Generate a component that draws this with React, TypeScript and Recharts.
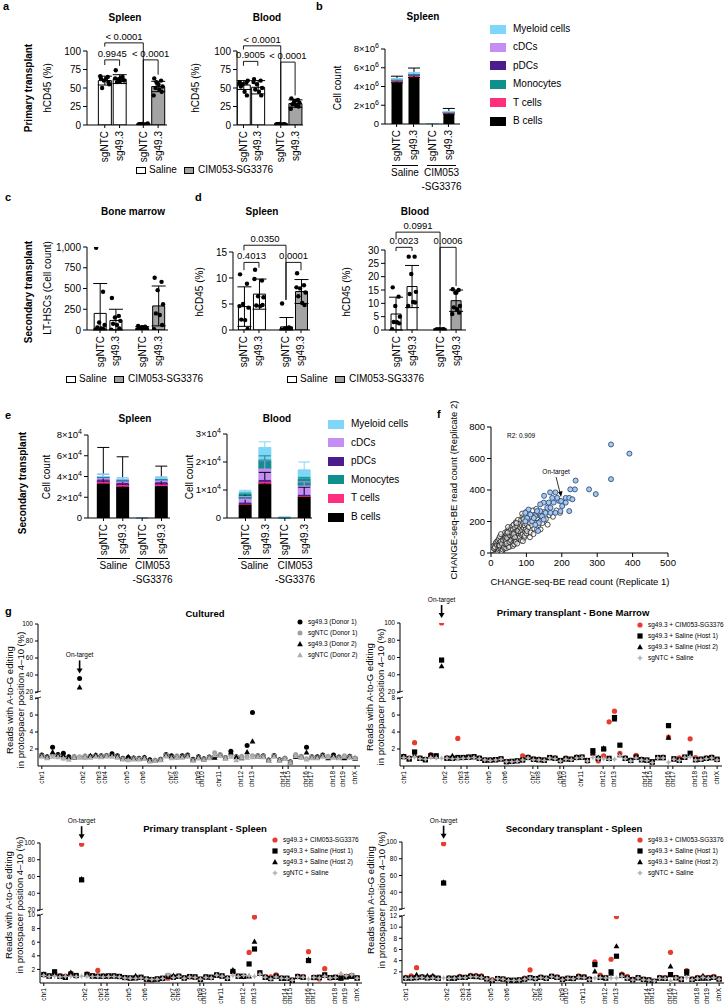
import React from 'react';
import {
  ComposedChart,
  ScatterChart,
  Bar,
  Scatter,
  XAxis,
  YAxis,
  ErrorBar,
  Cell,
  ReferenceLine,
  ReferenceDot,
} from 'recharts';

const FONT = '"Liberation Sans", Arial, Helvetica, sans-serif';
const AX = { stroke: '#000', strokeWidth: 1 };
const CIM_GRAY = '#a4a4a4';

const guides = ['sgNTC', 'sg49.3', 'sgNTC', 'sg49.3'];
const treatFill = ['#ffffff', '#ffffff', CIM_GRAY, CIM_GRAY];
// horizontal spread of replicate dots around a bar centre (fraction of bar spacing)
const JIT = [-0.26, 0.2, -0.06, 0.3, -0.18, 0.08, 0.24, -0.3, 0.02, -0.12];

// ---- a: primary transplant hCD45 (%)
const aSpleenMean = [60, 62, 1, 52];
const aSpleenSd = [6, 6, 0.5, 7];
const aSpleenPts = [
  [63, 65, 60, 55, 50, 62, 58, 66],
  [74, 65, 62, 60, 58, 64, 61, 63, 59],
  [1, 0.5, 1.5, 2, 1, 0.8, 1.2, 0.6],
  [63, 60, 56, 52, 50, 48, 45, 40, 55, 58],
];
const aBloodMean = [54, 51, 1, 29];
const aBloodSd = [6, 9, 0.5, 5];
const aBloodPts = [
  [58, 57, 55, 60, 52, 45, 40, 56],
  [62, 60, 55, 50, 48, 45, 40, 58],
  [1, 0.5, 1.5, 0.8, 1.2, 0.6, 1, 0.7],
  [36, 34, 32, 30, 28, 26, 25, 22, 33],
];
// brackets: bar a, bar b, line height, leg ends, p value
const aSpleenP = [
  { a: 0, b: 2, y: 111, ya: 106, yb: 4, label: '< 0.0001' },
  { a: 0, b: 1, y: 88, ya: 81, yb: 80, label: '0.9945' },
  { a: 2, b: 3, y: 88, ya: 4, yb: 68, label: '< 0.0001' },
];
const aBloodP = [
  { a: 0, b: 2, y: 107, ya: 102, yb: 4, label: '< 0.0001' },
  { a: 0, b: 1, y: 86, ya: 80, yb: 80, label: '0.9005' },
  { a: 2, b: 3, y: 85, ya: 4, yb: 40, label: '< 0.0001' },
];

// ---- c: LT-HSCs (cell count)
const cMean = [200, 115, 25, 290];
const cSd = [360, 135, 15, 240];
const cPts = [
  [990, 460, 90, 60, 30, 20, 10, 5],
  [385, 170, 150, 110, 75, 60, 20, 5],
  [50, 40, 30, 25, 20, 15, 10, 5, 35],
  [630, 580, 480, 310, 200, 180, 60, 10],
];

// ---- d: secondary transplant hCD45 (%)
const dSpleenMean = [4.5, 6.9, 0.6, 7.4];
const dSpleenSd = [3.8, 2.9, 1.8, 2.3];
const dSpleenPts = [
  [10.7, 8.9, 5, 4.3, 2, 1.9, 0.2, 4.6],
  [11.6, 9.5, 6.5, 6.3, 4.7, 4.6, 4.8, 9.8],
  [5.1, 0.5, 0.3, 0.2, 0, 0.1, 0.4, 0],
  [10.9, 8.6, 8, 7.2, 6.5, 5.2, 4.8, 8.2],
];
const dSpleenP = [
  { a: 0, b: 2, y: 16.3, ya: 15.3, yb: 5.8, label: '0.0350' },
  { a: 0, b: 1, y: 13, ya: 11.5, yb: 12, label: '0.4013' },
  { a: 2, b: 3, y: 13, ya: 5.8, yb: 11.5, label: '0.0001' },
];
const dBloodMean = [6, 16.3, 0.2, 11];
const dBloodSd = [6.3, 7.9, 0.2, 4];
const dBloodPts = [
  [16, 12.5, 9, 5, 3, 2.9, 2.5, 0.3],
  [27.5, 27.5, 21, 14.3, 13.5, 10.5, 10.3, 9],
  [0.2, 0.1, 0.3, 0.2, 0.1, 0.2, 0.3, 0.1],
  [15.3, 15, 14, 9, 8.5, 7.8, 6.5, 6, 14],
];
const dBloodP = [
  { a: 0, b: 2, y: 36.7, ya: 34, yb: 2, label: '0.0991' },
  { a: 0, b: 1, y: 31, ya: 29.6, yb: 29.6, label: '0.0023' },
  { a: 2, b: 3, y: 31, ya: 1, yb: 16.5, label: '0.0006' },
];

// ---- b / e: stacked cell counts (stack order bottom -> top)
const cellTypes = ['B cells', 'T cells', 'pDCs', 'cDCs', 'Monocytes', 'Myeloid cells'];
const cellColors = ['#000000', '#ff2f7d', '#4b1c8e', '#c58ef4', '#10908c', '#7fd6f8'];
const legendOrder = [5, 3, 2, 4, 1, 0];

const bVals = [
  [4.4, 4.97, 0, 1.06],
  [0.2, 0.23, 0, 0.14],
  [0.02, 0.02, 0, 0.01],
  [0.04, 0.04, 0, 0.02],
  [0.02, 0.02, 0, 0.01],
  [0.12, 0.14, 0.03, 0.06],
];
const bErr = [
  [0.7, 1.0, 0, 0.6],
  [0.05, 0.05, 0, 0.04],
  [0.01, 0.01, 0, 0.01],
  [0.03, 0.03, 0, 0.02],
  [0.01, 0.01, 0, 0.01],
  [0.05, 0.08, 0.02, 0.04],
];
const eSpleenVals = [
  [3.3, 3.0, 0, 3.05],
  [0.08, 0.08, 0, 0.08],
  [0.27, 0.25, 0, 0.27],
  [0.2, 0.22, 0.005, 0.22],
  [0.05, 0.05, 0, 0.05],
  [0.1, 0.15, 0.005, 0.15],
];
const eSpleenErr = [
  [3.5, 2.9, 0, 1.95],
  [0.05, 0.05, 0, 0.05],
  [0.3, 0.2, 0, 0.25],
  [0.35, 0.2, 0, 0.3],
  [0.05, 0.05, 0, 0.05],
  [0.25, 0.15, 0, 0.15],
];
const eBloodVals = [
  [0.48, 1.21, 0, 0.76],
  [0.02, 0.05, 0, 0.02],
  [0.02, 0.05, 0, 0.02],
  [0.15, 0.44, 0, 0.34],
  [0.17, 0.32, 0.005, 0.26],
  [0.1, 0.45, 0.02, 0.32],
];
const eBloodErr = [
  [0.35, 0.42, 0, 0.34],
  [0.01, 0.03, 0, 0.01],
  [0.01, 0.03, 0, 0.01],
  [0.1, 0.3, 0, 0.15],
  [0.05, 0.15, 0, 0.05],
  [0.05, 0.2, 0.02, 0.28],
];

// ---- f: CHANGE-seq-BE replicate read counts
const fXTicks = [0, 100, 200, 300, 400, 500];
const fYTicks = [0, 200, 400, 600, 800];
const fBlue = [
  [339, 689], [391, 631], [339, 469], [277, 404], [296, 374], [239, 460], [237, 404], [224, 404],
  [211, 350], [221, 266], [201, 298], [182, 385], [167, 385], [150, 363], [192, 331], [177, 320],
  [163, 320], [149, 320], [139, 266], [154, 255], [168, 255], [182, 255], [196, 266], [144, 233],
  [130, 266], [125, 233], [116, 201], [106, 276], [97, 255], [133, 140], [135, 190], [149, 212],
  [211, 320], [221, 350], [230, 341], [173, 350], [187, 350], [159, 287], [168, 287], [111, 244],
  [102, 222], [121, 222], [97, 201], [125, 179], [139, 309], [198, 330],
];
const fCloud = [
  [0, 0], [1, 3], [2, 6], [3, 1], [4, 9], [5, 4], [6, 12], [7, 7], [8, 2], [9, 16], [10, 10],
  [11, 22], [12, 6], [13, 18], [14, 28], [15, 12], [16, 3], [17, 24], [18, 35], [19, 15], [20, 8],
  [2, 20], [4, 30], [6, 25], [8, 40], [10, 32], [12, 48], [14, 38], [16, 55], [18, 45], [20, 62],
  [1, 12], [3, 18], [5, 35], [7, 45], [9, 28], [11, 38], [13, 60], [15, 70], [17, 50], [19, 78],
  [21, 30], [22, 52], [23, 18], [24, 68], [25, 40], [26, 85], [27, 25], [28, 60], [29, 95], [30, 45],
  [31, 75], [32, 14], [33, 100], [34, 55], [35, 32], [36, 88], [37, 65], [38, 110], [39, 42], [40, 78],
  [22, 90], [25, 105], [28, 120], [30, 12], [33, 22], [36, 48], [38, 28], [40, 130], [24, 48], [27, 72],
  [31, 58], [34, 82], [37, 38], [39, 95],
  [41, 55], [42, 100], [43, 30], [44, 120], [45, 70], [46, 140], [47, 48], [48, 92], [49, 110], [50, 62],
  [51, 150], [52, 85], [53, 40], [54, 125], [55, 75], [56, 160], [57, 100], [58, 58], [59, 135], [60, 90],
  [42, 75], [45, 95], [48, 165], [50, 38], [53, 112], [55, 145], [58, 125], [60, 170], [44, 60], [47, 130],
  [52, 70], [57, 80],
  [61, 110], [62, 150], [63, 65], [64, 180], [65, 95], [66, 130], [67, 75], [68, 160], [69, 115], [70, 195],
  [71, 85], [72, 140], [73, 105], [74, 170], [75, 125], [76, 210], [77, 90], [78, 150], [79, 115], [80, 185],
  [62, 45], [66, 55], [70, 70], [74, 60], [78, 95], [80, 135], [64, 120], [68, 100], [72, 190], [76, 140],
  [82, 100], [83, 160], [84, 130], [85, 210], [86, 115], [87, 175], [88, 145], [89, 230], [90, 120],
  [91, 190], [92, 160], [93, 95], [94, 240], [95, 175], [96, 135], [97, 205], [98, 150], [99, 260],
  [100, 185], [85, 80], [90, 75], [95, 110], [100, 125], [88, 250], [92, 215],
  [102, 140], [104, 210], [106, 165], [108, 250], [110, 190], [112, 130], [114, 230], [116, 175],
  [118, 270], [120, 210], [122, 155], [124, 240], [126, 190], [128, 280], [130, 220], [133, 170],
  [136, 250], [138, 200], [140, 235], [145, 190], [150, 260], [155, 215], [110, 100], [120, 120],
  [130, 150], [160, 180], [165, 240], [175, 230], [185, 270], [195, 255], [140, 150],
];
const fOnTarget = [198, 330];

// ---- g: A-to-G editing at CHANGE-seq-BE sites (site index along genome)
const chrNames = ['chr1', 'chr2', 'chr3', 'chr4', 'chr5', 'chr6', 'chr7', 'chr8', 'chr9', 'chr10',
  'chr11', 'chr12', 'chr13', 'chr14', 'chr15', 'chr16', 'chr17', 'chr18', 'chr19', 'chrX'];
const chrPos = [0, 7.6, 10.6, 11.7, 15.7, 18.7, 23.9, 24.8, 28.9, 29.6, 32.8, 36.9, 38.9, 44.6,
  45.6, 48.9, 49.8, 53.9, 55.7, 58];
const onTargetSite = 7;

const cultD1 = [1.3, 1.1, 2.2, 1.35, 1.5, 1.1, 1.0, 36, 1.1, 1.15, 1.25, 1.2, 1.25, 1.45, 1.2, 0.9, 1.0, 0.95, 0.9, 1.0, 0.75, 0.65, 0.8, 1.35, 1.2, 1.1, 1.2, 1.3, 0.8, 1.1, 0.85, 1.05, 1.1, 1.3, 1.0, 1.75, 1.1, 1.0, 2.4, 6.3, 1.2, 1.2, 0.7, 1.25, 0.75, 0.9, 0.5, 1.15, 1.1, 2.2, 1.1, 1.1, 1.3, 1.0, 1.3, 1.05, 1.0, 1.15, 0.9];
const cultN1 = [1.2, 1.0, 1.3, 1.2, 0.95, 0.9, 1.15, 1.1, 1.2, 1.1, 1.2, 1.15, 1.25, 1.2, 1.1, 0.85, 0.8, 0.9, 0.85, 0.95, 0.6, 0.7, 0.75, 1.3, 1.05, 1.2, 1.1, 1.2, 0.7, 1.0, 0.8, 1.0, 1.55, 1.35, 1.0, 1.2, 1.05, 1.15, 1.1, 1.2, 1.25, 1.15, 0.65, 1.2, 0.7, 0.9, 0.45, 1.35, 1.15, 0.85, 1.05, 1.0, 1.2, 1.15, 1.1, 1.0, 1.2, 1.1, 0.95];
const cultD2 = [1.25, 1.05, 1.65, 1.3, 1.3, 1.05, 1.0, 25.5, 1.05, 1.2, 1.3, 1.15, 1.2, 1.4, 1.15, 0.85, 1.1, 0.9, 0.85, 1.0, 0.7, 0.6, 0.75, 1.3, 1.15, 1.05, 1.15, 1.25, 0.75, 1.05, 0.8, 1.0, 1.0, 1.25, 0.95, 1.6, 1.05, 0.95, 1.65, 2.9, 1.15, 1.1, 0.65, 1.2, 0.7, 0.85, 0.45, 1.1, 1.05, 1.6, 1.0, 1.05, 1.25, 0.95, 1.25, 1.0, 0.95, 1.1, 0.85];
const cultN2 = [1.1, 0.95, 1.1, 1.05, 0.9, 0.75, 1.0, 1.0, 1.05, 1.0, 1.1, 1.05, 1.15, 1.1, 1.0, 0.8, 0.7, 0.8, 0.8, 0.85, 0.55, 0.6, 0.7, 1.15, 0.95, 1.05, 1.0, 1.1, 0.65, 0.9, 0.75, 0.95, 1.3, 1.2, 0.9, 1.1, 0.7, 1.0, 1.0, 1.05, 1.1, 1.05, 0.6, 1.1, 0.65, 0.85, 0.4, 1.2, 1.05, 0.8, 0.95, 0.95, 1.1, 1.05, 1.0, 0.95, 1.1, 1.0, 0.9];

const bmCim = [1.1, 0.95, 2.75, 0.95, 0.8, 1.35, 1.1, 100, 0.95, 0.95, 3.25, 1.0, 1.05, 1.1, 0.95, 0.75, 0.7, 0.75, 0.85, 0.55, 0.5, 0.65, 1.2, 1.0, 0.85, 0.8, 0.7, 1.0, 0.95, 0.6, 0.95, 0.8, 1.05, 1.05, 0.6, 1.5, 0.6, 1.2, 5.2, 6.45, 1.5, 0.95, 0.7, 1.25, 0.8, 0.7, 0.45, 1.0, 1.05, 3.4, 0.8, 0.95, 1.0, 3.2, 1.0, 0.8, 0.95, 1.05, 0.75];
const bmH1 = [1.1, 0.85, 1.65, 0.9, 0.75, 1.2, 1.2, 57, 0.9, 0.9, 1.0, 1.0, 1.05, 1.1, 0.9, 0.7, 0.7, 0.75, 0.85, 0.5, 0.55, 0.6, 0.7, 1.0, 0.8, 0.75, 0.7, 1.0, 0.9, 0.65, 0.85, 0.8, 1.0, 1.05, 0.65, 1.8, 0.9, 2.0, 0.9, 5.7, 2.45, 0.9, 0.65, 1.05, 0.75, 0.7, 0.5, 1.0, 1.0, 4.75, 0.85, 0.7, 1.05, 1.5, 0.75, 0.8, 0.9, 1.0, 0.8];
const bmH2 = [1.15, 0.8, 1.3, 0.85, 0.7, 1.25, 1.15, 50, 0.95, 1.2, 0.95, 1.0, 1.0, 1.05, 0.85, 0.65, 0.7, 0.7, 0.8, 0.5, 0.5, 0.6, 0.75, 1.05, 0.75, 0.7, 0.65, 0.95, 0.9, 0.6, 0.8, 0.75, 1.0, 1.0, 0.6, 1.5, 1.0, 2.1, 0.85, 5.5, 1.3, 0.85, 0.6, 1.0, 0.7, 0.65, 0.45, 0.95, 0.95, 3.35, 0.8, 0.65, 1.0, 1.3, 0.7, 0.75, 0.85, 0.95, 0.75];
const bmNtc = [1.0, 0.9, 1.05, 0.85, 0.8, 1.0, 0.95, 0.9, 0.9, 0.85, 0.85, 0.9, 0.95, 1.0, 0.85, 0.7, 0.65, 0.7, 0.8, 0.5, 0.5, 0.55, 0.7, 0.95, 0.75, 0.7, 0.65, 0.95, 0.85, 0.6, 0.8, 0.75, 0.95, 1.0, 0.6, 1.0, 0.85, 0.85, 0.8, 0.8, 1.2, 0.85, 0.6, 0.95, 0.7, 0.65, 0.4, 0.95, 0.95, 0.45, 0.8, 0.65, 1.0, 1.1, 0.7, 0.75, 0.85, 0.95, 0.7];

const psCim = [1.2, 1.0, 1.5, 1.05, 1.0, 1.4, 1.05, 98.5, 1.35, 1.1, 1.85, 1.05, 0.95, 1.0, 1.0, 0.8, 0.7, 0.75, 0.8, 0.5, 0.45, 0.6, 0.65, 0.7, 0.9, 1.0, 0.75, 0.9, 0.85, 0.6, 0.85, 0.8, 1.15, 1.0, 0.75, 1.6, 1.0, 0.95, 4.5, 9.7, 1.4, 0.9, 0.9, 1.2, 0.75, 0.7, 0.45, 1.0, 0.95, 4.6, 0.85, 0.6, 2.1, 0.75, 0.8, 0.9, 0.95, 1.1, 0.75];
const psH1 = [1.25, 1.05, 1.65, 1.0, 0.85, 1.3, 1.1, 56, 1.25, 1.05, 1.0, 1.0, 1.05, 1.05, 0.95, 0.8, 0.75, 0.75, 0.85, 0.6, 0.5, 0.6, 0.7, 1.0, 0.85, 1.0, 0.75, 0.95, 0.9, 0.55, 0.9, 0.85, 1.2, 1.05, 0.7, 1.7, 1.0, 1.0, 2.8, 5.0, 1.5, 0.85, 0.65, 1.0, 0.7, 0.7, 0.4, 0.95, 0.85, 3.3, 0.8, 0.85, 1.2, 0.8, 0.85, 0.7, 0.9, 1.0, 0.75];
const psH2 = [1.3, 1.0, 1.4, 0.95, 0.8, 1.55, 1.05, 57, 1.2, 1.0, 1.0, 0.95, 1.0, 1.0, 0.9, 0.75, 0.7, 1.05, 0.8, 0.55, 0.5, 0.55, 0.65, 1.0, 1.1, 0.95, 0.7, 0.9, 0.85, 0.5, 0.85, 0.8, 1.1, 1.0, 0.65, 1.9, 0.95, 0.95, 1.0, 6.1, 1.4, 0.8, 0.6, 0.95, 0.65, 0.65, 0.35, 0.9, 0.8, 3.45, 0.75, 0.8, 1.1, 0.75, 0.8, 0.75, 1.0, 0.95, 0.7];
const psNtc = [1.1, 0.95, 1.0, 0.9, 0.95, 1.0, 0.95, 1.0, 1.0, 0.95, 0.95, 0.9, 0.95, 0.95, 0.9, 0.75, 0.7, 0.7, 0.75, 0.6, 0.5, 0.55, 0.65, 1.2, 0.8, 0.95, 0.7, 0.9, 0.8, 0.55, 0.8, 0.75, 1.15, 1.0, 0.7, 1.1, 0.95, 1.1, 1.05, 0.95, 1.3, 0.85, 0.6, 0.9, 0.7, 0.65, 0.4, 0.9, 0.85, 0.6, 0.8, 0.75, 1.0, 0.75, 0.8, 1.4, 1.05, 1.2, 0.7];

const ssCim = [1.0, 1.3, 2.75, 1.1, 1.0, 1.15, 0.9, 98, 0.9, 0.9, 1.2, 1.0, 1.35, 1.35, 1.3, 0.8, 0.6, 0.8, 0.75, 0.5, 0.45, 0.55, 0.9, 2.35, 0.8, 1.05, 0.85, 1.2, 1.1, 0.75, 0.85, 0.85, 1.3, 1.1, 0.75, 3.8, 1.4, 1.0, 4.25, 11.9, 1.6, 1.2, 0.7, 1.0, 0.7, 0.6, 0.35, 1.0, 0.95, 5.5, 1.0, 0.6, 2.2, 0.75, 1.0, 1.1, 1.0, 1.2, 0.8];
const ssH1 = [0.85, 0.9, 0.95, 1.05, 0.9, 1.0, 0.85, 51, 0.85, 0.85, 1.0, 1.0, 1.2, 1.15, 1.05, 0.75, 0.3, 0.8, 0.7, 0.5, 0.5, 0.55, 0.7, 0.95, 0.8, 1.0, 0.85, 1.2, 1.0, 0.65, 0.85, 0.8, 1.1, 1.05, 0.65, 3.3, 1.0, 0.9, 2.0, 4.8, 1.35, 0.9, 0.6, 0.95, 0.65, 0.55, 0.3, 0.9, 0.85, 1.5, 0.95, 0.7, 2.0, 0.65, 0.85, 0.85, 0.9, 1.0, 0.7];
const ssH2 = [0.95, 0.85, 1.5, 1.1, 1.3, 1.3, 0.8, 52, 0.9, 0.9, 1.1, 1.0, 1.25, 1.2, 1.1, 0.7, 0.4, 0.75, 0.7, 0.5, 0.45, 0.5, 0.7, 1.0, 0.75, 1.0, 0.8, 1.1, 0.95, 0.6, 0.8, 0.75, 1.05, 1.0, 0.6, 2.1, 0.95, 0.85, 1.7, 6.6, 1.5, 0.85, 0.55, 0.9, 0.6, 0.5, 0.3, 0.85, 0.8, 3.0, 0.9, 0.65, 1.7, 0.6, 0.8, 1.3, 0.85, 0.95, 0.7];
const ssNtc = [0.8, 0.85, 0.9, 1.0, 0.85, 0.9, 0.75, 0.9, 0.8, 0.85, 0.95, 0.95, 1.1, 1.1, 1.0, 0.7, 0.5, 0.75, 0.65, 0.45, 0.45, 0.5, 0.65, 0.9, 0.75, 0.95, 0.8, 1.1, 0.95, 0.6, 0.8, 0.75, 1.05, 0.95, 0.6, 0.9, 0.95, 0.9, 0.9, 0.9, 1.2, 0.85, 0.55, 0.9, 0.6, 0.5, 0.35, 0.85, 0.8, 0.4, 0.9, 0.65, 1.0, 0.6, 0.8, 1.0, 0.85, 0.95, 0.65];

const donorNames = ['sg49.3 (Donor 1)', 'sgNTC (Donor 1)', 'sg49.3 (Donor 2)', 'sgNTC (Donor 2)'];
const hostNames = ['sg49.3 + CIM053-SG3376', 'sg49.3 + Saline (Host 1)', 'sg49.3 + Saline (Host 2)', 'sgNTC + Saline'];
const donorMarks = ['dot', 'dotGray', 'tri', 'triGray'];
const hostMarks = ['red', 'sq', 'tri', 'star'];

// ---------------------------------------------------------------------------

function Txt({ x, y, children, size = 10, bold = false, rot = false, anchor = 'middle', lh = 1 }: any) {
  const tx = anchor === 'middle' ? '-50%' : anchor === 'end' ? '-100%' : '0';
  return (
    <div
      style={{
        position: 'absolute', left: x, top: y, fontSize: size, fontWeight: bold ? 700 : 400,
        whiteSpace: 'nowrap', lineHeight: lh, textAlign: 'center',
        transform: `translate(${tx}, -50%)${rot ? ' rotate(-90deg)' : ''}`,
      }}
    >
      {children}
    </div>
  );
}

function RotTick({ x, y, label, size = 10 }: any) {
  return (
    <text x={x} y={y} transform={`rotate(-90 ${x} ${y})`} textAnchor="end" dy="0.35em" fontSize={size} fill="#000">
      {label}
    </text>
  );
}

function ExpTick({ x, y, value, exp }: any) {
  return (
    <text x={x} y={y} dy="0.35em" textAnchor="end" fontSize={9.5} fill="#000">
      {value === 0 ? '0' : (
        <>
          {value}×10<tspan dy={-4} fontSize={7}>{exp}</tspan>
        </>
      )}
    </text>
  );
}

const dotShape = (s: any) => <circle cx={s.cx} cy={s.cy} r={2.2} fill="#000" />;

function DotBar(p: any) {
  const padL = 42, padT = 44, padR = 6, padB = 44;
  const rows = p.pos.map((x: number, i: number) => ({
    x, mean: p.means[i], err: [Math.min(p.sds[i], p.means[i]), p.sds[i]],
  }));
  const dots = p.pts.flatMap((vals: number[], i: number) =>
    vals.map((v, j) => ({ x: p.pos[i] + JIT[j % JIT.length] * (p.spread || 1), y: v })),
  );
  const seg = (a: any, b: any, key: string) => (
    <ReferenceLine key={key} xAxisId="b" segment={[a, b]} stroke="#000" strokeWidth={0.9} ifOverflow="visible" />
  );
  return (
    <div style={{ position: 'absolute', left: p.x - padL, top: p.y - padT }}>
      <ComposedChart width={p.w + padL + padR} height={p.h + padT + padB} data={rows}
        margin={{ top: padT, right: padR, bottom: 0, left: 0 }}>
        <XAxis xAxisId="b" type="number" dataKey="x" domain={p.dom} ticks={p.pos} interval={0} allowDataOverflow
          height={padB} axisLine={AX} tickLine={AX} tickSize={3} tickMargin={3}
          tick={(t: any) => <RotTick x={t.x} y={t.y} label={guides[p.pos.indexOf(t.payload.value)]} />} />
        <XAxis xAxisId="d" type="number" dataKey="x" domain={p.dom} allowDataOverflow hide />
        <YAxis type="number" domain={[0, p.yMax]} ticks={p.yTicks} interval={0} allowDataOverflow width={padL}
          axisLine={AX} tickLine={AX} tickSize={4} tick={{ fontSize: 10, fill: '#000' }}
          tickFormatter={(v: number) => v.toLocaleString('en-US')} />
        <Bar xAxisId="b" dataKey="mean" barSize={p.barSize} stroke="#000" strokeWidth={1} isAnimationActive={false}>
          {rows.map((_: any, i: number) => <Cell key={i} fill={treatFill[i]} />)}
          <ErrorBar dataKey="err" width={7} stroke="#000" strokeWidth={1} direction="y" />
        </Bar>
        <Scatter xAxisId="d" data={dots} dataKey="y" shape={dotShape} isAnimationActive={false} />
        {(p.brackets || []).flatMap((b: any, k: number) => {
          const xa = p.pos[b.a], xb = p.pos[b.b];
          return [
            seg({ x: xa, y: b.y }, { x: xb, y: b.y }, `h${k}`),
            seg({ x: xa, y: b.y }, { x: xa, y: b.ya }, `l${k}`),
            seg({ x: xb, y: b.y }, { x: xb, y: b.yb }, `r${k}`),
            <ReferenceDot key={`t${k}`} xAxisId="b" x={(xa + xb) / 2} y={b.y} r={0} ifOverflow="visible"
              shape={(s: any) => (
                <text x={s.cx} y={s.cy - 3} textAnchor="middle" fontSize={9.5} fill="#000">{b.label}</text>
              )} />,
          ];
        })}
      </ComposedChart>
    </div>
  );
}

function StackBar(p: any) {
  const padL = 42, padT = 10, padR = 4, padB = 44;
  const rows = p.pos.map((x: number, i: number) => {
    const r: any = { x };
    cellTypes.forEach((_, j) => {
      r['v' + j] = p.vals[j][i];
      r['e' + j] = [0, p.errs[j][i]];
    });
    return r;
  });
  return (
    <div style={{ position: 'absolute', left: p.x - padL, top: p.y - padT }}>
      <ComposedChart width={p.w + padL + padR} height={p.h + padT + padB} data={rows}
        margin={{ top: padT, right: padR, bottom: 0, left: 0 }}>
        <XAxis type="number" dataKey="x" domain={p.dom} ticks={p.pos} interval={0} allowDataOverflow height={padB}
          axisLine={AX} tickLine={AX} tickSize={3} tickMargin={3}
          tick={(t: any) => <RotTick x={t.x} y={t.y} label={guides[p.pos.indexOf(t.payload.value)]} />} />
        <YAxis type="number" domain={[0, p.yMax]} ticks={p.yTicks} interval={0} allowDataOverflow width={padL}
          axisLine={AX} tickLine={AX} tickSize={4}
          tick={(t: any) => <ExpTick x={t.x} y={t.y} value={t.payload.value} exp={p.exp} />} />
        {cellTypes.map((c, j) => (
          <Bar key={c} dataKey={'v' + j} stackId="s" fill={cellColors[j]} barSize={p.barSize} isAnimationActive={false}>
            <ErrorBar dataKey={'e' + j} width={6} stroke={cellColors[j]} strokeWidth={1} direction="y" />
          </Bar>
        ))}
      </ComposedChart>
    </div>
  );
}

function TreatLegend({ x, y }: any) {
  const box = (left: number, bg: string) => (
    <div style={{ position: 'absolute', left, top: y - 3, width: 8, height: 5, border: '1px solid #000', background: bg }} />
  );
  return (
    <>
      {box(x, '#fff')}
      <Txt x={x + 13} y={y} anchor="start">Saline</Txt>
      {box(x + 48, CIM_GRAY)}
      <Txt x={x + 62} y={y} anchor="start">CIM053-SG3376</Txt>
    </>
  );
}

function CellLegend({ x, y, gap }: any) {
  return (
    <>
      {legendOrder.map((j, k) => (
        <React.Fragment key={j}>
          <div style={{ position: 'absolute', left: x, top: y + k * gap - 4.5, width: 16, height: 9, background: cellColors[j] }} />
          <Txt x={x + 23} y={y + k * gap} anchor="start">{cellTypes[j]}</Txt>
        </React.Fragment>
      ))}
    </>
  );
}

function GroupRule({ x1, x2, y, lines }: any) {
  return (
    <>
      <div style={{ position: 'absolute', left: x1, top: y, width: x2 - x1, borderTop: '1px solid #000' }} />
      {lines.map((l: string, i: number) => (
        <Txt key={i} x={(x1 + x2) / 2} y={y + 8 + i * 14}>{l}</Txt>
      ))}
    </>
  );
}

function ScatterF() {
  const padL = 34, padT = 10, padR = 12, padB = 22;
  const px = 491, py = 427, pw = 177, ph = 126;
  return (
    <div style={{ position: 'absolute', left: px - padL, top: py - padT }}>
      <ScatterChart width={pw + padL + padR} height={ph + padT + padB} margin={{ top: padT, right: padR, bottom: 0, left: 0 }}>
        <XAxis type="number" dataKey="x" domain={[0, 500]} ticks={fXTicks} interval={0} allowDataOverflow height={padB}
          axisLine={AX} tickLine={AX} tickSize={4} tick={{ fontSize: 9.5, fill: '#000' }} />
        <YAxis type="number" dataKey="y" domain={[0, 800]} ticks={fYTicks} interval={0} allowDataOverflow width={padL}
          axisLine={AX} tickLine={AX} tickSize={4} tick={{ fontSize: 9.5, fill: '#000' }} />
        <Scatter data={fCloud.map(([x, y]) => ({ x, y }))} isAnimationActive={false}
          shape={(s: any) => <circle cx={s.cx} cy={s.cy} r={2.5} fill="#ffffff" fillOpacity={0.55} stroke="#1a1a1a" strokeWidth={0.75} />} />
        <Scatter data={fBlue.map(([x, y]) => ({ x, y }))} isAnimationActive={false}
          shape={(s: any) => <circle cx={s.cx} cy={s.cy} r={2.5} fill="#a9c8ea" stroke="#2f4f7f" strokeWidth={0.9} />} />
        <ReferenceDot x={fOnTarget[0]} y={fOnTarget[1]} r={0} ifOverflow="visible"
          shape={(s: any) => (
            <g>
              <text x={s.cx - 5} y={s.cy - 27} textAnchor="middle" fontSize={6.5} fill="#000">On-target</text>
              <line x1={s.cx - 5} y1={s.cy - 24} x2={s.cx - 1} y2={s.cy - 8} stroke="#000" strokeWidth={0.8} />
              <polygon points={`${s.cx - 3},${s.cy - 9} ${s.cx + 1.5},${s.cy - 10} ${s.cx},${s.cy - 4}`} fill="#000" />
            </g>
          )} />
      </ScatterChart>
    </div>
  );
}

function drawMark(kind: string, cx: number, cy: number) {
  switch (kind) {
    case 'dot': return <circle cx={cx} cy={cy} r={2.5} fill="#000" />;
    case 'dotGray': return <circle cx={cx} cy={cy} r={2.5} fill="#a0a0a0" />;
    case 'red': return <circle cx={cx} cy={cy} r={2.6} fill="#e63b2e" />;
    case 'tri': return <polygon points={`${cx},${cy - 3} ${cx + 2.9},${cy + 2.2} ${cx - 2.9},${cy + 2.2}`} fill="#000" />;
    case 'triGray': return <polygon points={`${cx},${cy - 3} ${cx + 2.9},${cy + 2.2} ${cx - 2.9},${cy + 2.2}`} fill="#b0b0b0" />;
    case 'sq': return <rect x={cx - 2.6} y={cy - 2.6} width={5.2} height={5.2} fill="#000" />;
    default:
      return (
        <polygon
          points={`${cx},${cy - 3} ${cx + 1},${cy - 1} ${cx + 3},${cy} ${cx + 1},${cy + 1} ${cx},${cy + 3} ${cx - 1},${cy + 1} ${cx - 3},${cy} ${cx - 1},${cy - 1}`}
          fill="#b4b4b4" />
      );
  }
}

function MarkLegend({ x, y, names, marks }: any) {
  return (
    <>
      {names.map((n: string, k: number) => (
        <div key={k} style={{ position: 'absolute', left: x - 4, top: y + k * 11 - 4, width: 8, height: 8 }}>
          <svg width={8} height={8} style={{ position: 'absolute', left: 0, top: 0 }}>{drawMark(marks[k], 4, 4)}</svg>
          <span style={{ position: 'absolute', left: 12, top: 4, transform: 'translateY(-50%)', fontSize: 6.5, whiteSpace: 'nowrap', lineHeight: 1 }}>{n}</span>
        </div>
      ))}
    </>
  );
}

const GDOM = [-0.7, 58.9];

function EditPlot(p: any) {
  const padL = 22, padR = 4, upPad = 32, loPadB = 34;
  const pts = (vals: number[]) => vals.map((v, i) => ({ x: i, y: v }));
  const top = Math.max(...p.series.map((s: number[]) => s[onTargetSite]));
  const yAx: any = {
    type: 'number', dataKey: 'y', allowDataOverflow: true, width: padL, axisLine: AX, tickLine: AX,
    tickSize: 3, tick: { fontSize: 6.5, fill: '#000' }, interval: 0,
  };
  return (
    <>
      <div style={{ position: 'absolute', left: p.x - padL, top: p.upTop - upPad }}>
        <ScatterChart width={p.w + padL + padR} height={p.upH + upPad + 3} margin={{ top: upPad, right: padR, bottom: 3, left: 0 }}>
          <XAxis type="number" dataKey="x" domain={GDOM} allowDataOverflow hide />
          <YAxis {...yAx} domain={[20, 100]} ticks={[20, 40, 60, 80, 100]} />
          {p.series.map((s: number[], k: number) => (
            <Scatter key={k} data={pts(s).filter((d) => d.y > p.loMax)} isAnimationActive={false}
              shape={(q: any) => drawMark(p.marks[k], q.cx, q.cy)} />
          ))}
          <ReferenceDot x={onTargetSite} y={top} r={0} ifOverflow="visible"
            shape={(s: any) => (
              <g>
                <text x={s.cx} y={s.cy - 21} textAnchor="middle" fontSize={6.5} fill="#000">On-target</text>
                <line x1={s.cx} y1={s.cy - 18} x2={s.cx} y2={s.cy - 9} stroke="#000" strokeWidth={1.6} />
                <polygon points={`${s.cx - 3},${s.cy - 10} ${s.cx + 3},${s.cy - 10} ${s.cx},${s.cy - 5}`} fill="#000" />
              </g>
            )} />
        </ScatterChart>
      </div>
      <div style={{ position: 'absolute', left: p.x - padL, top: p.loTop - 4 }}>
        <ScatterChart width={p.w + padL + padR} height={p.loH + 4 + loPadB} margin={{ top: 4, right: padR, bottom: 0, left: 0 }}>
          <XAxis type="number" dataKey="x" domain={GDOM} ticks={chrPos} interval={0} allowDataOverflow height={loPadB}
            axisLine={AX} tickLine={AX} tickSize={3} tickMargin={2}
            tick={(t: any) => <RotTick x={t.x} y={t.y} size={6.5} label={chrNames[chrPos.indexOf(t.payload.value)]} />} />
          <YAxis {...yAx} domain={[0, p.loMax]} ticks={p.loTicks} />
          {p.series.map((s: number[], k: number) => (
            <Scatter key={k} data={pts(s).filter((d) => d.y <= p.loMax)} isAnimationActive={false}
              shape={(q: any) => drawMark(p.marks[k], q.cx, q.cy)} />
          ))}
        </ScatterChart>
      </div>
      <svg width={10} height={p.loTop - (p.upTop + p.upH) + 4}
        style={{ position: 'absolute', left: p.x - 5, top: p.upTop + p.upH - 2 }}>
        <line x1={2} y1={3} x2={8} y2={1} stroke="#000" strokeWidth={0.8} />
        <line x1={2} y1={p.loTop - (p.upTop + p.upH) + 3} x2={8} y2={p.loTop - (p.upTop + p.upH) + 1} stroke="#000" strokeWidth={0.8} />
      </svg>
    </>
  );
}

const G_YLABEL = (
  <>
    Reads with A-to-G editing
    <br />
    in protospacer position 4–10 (%)
  </>
);

export default function App() {
  return (
    <div style={{ position: 'absolute', left: 0, top: 0, width: 725, height: 1008, background: '#fff', fontFamily: FONT, color: '#000', overflow: 'hidden' }}>
      {/* panel letters */}
      <Txt x={3} y={6} size={11} bold anchor="start">a</Txt>
      <Txt x={316} y={6} size={11} bold anchor="start">b</Txt>
      <Txt x={5} y={197} size={11} bold anchor="start">c</Txt>
      <Txt x={195} y={197} size={11} bold anchor="start">d</Txt>
      <Txt x={5} y={415} size={11} bold anchor="start">e</Txt>
      <Txt x={437} y={414} size={11} bold anchor="start">f</Txt>
      <Txt x={5} y={611} size={11} bold anchor="start">g</Txt>

      {/* a */}
      <Txt x={29} y={88} bold rot>Primary transplant</Txt>
      <Txt x={125} y={18} bold>Spleen</Txt>
      <Txt x={267} y={18} bold>Blood</Txt>
      <Txt x={48} y={88} rot>hCD45 (%)</Txt>
      <Txt x={196} y={88} rot>hCD45 (%)</Txt>
      <DotBar x={87} y={51} w={80} h={74} pos={[1, 2, 3.6, 4.6]} dom={[-0.2, 5.2]} yMax={100} yTicks={[0, 25, 50, 75, 100]}
        means={aSpleenMean} sds={aSpleenSd} pts={aSpleenPts} barSize={13} brackets={aSpleenP} />
      <DotBar x={237} y={51} w={66} h={74} pos={[1, 2, 3.6, 4.6]} dom={[0.55, 5.15]} yMax={100} yTicks={[0, 25, 50, 75, 100]}
        means={aBloodMean} sds={aBloodSd} pts={aBloodPts} barSize={13} brackets={aBloodP} />
      <TreatLegend x={136} y={170} />

      {/* b */}
      <Txt x={423} y={17} bold>Spleen</Txt>
      <Txt x={338} y={88} rot>Cell count</Txt>
      <StackBar x={385} y={49} w={75} h={75} pos={[1, 2, 3.1, 4.05]} dom={[0.32, 4.73]} yMax={8} yTicks={[0, 2, 4, 6, 8]}
        exp={6} vals={bVals} errs={bErr} barSize={11} />
      <GroupRule x1={392} x2={418} y={165} lines={['Saline']} />
      <GroupRule x1={427} x2={456} y={165} lines={['CIM053', '-SG3376']} />
      <CellLegend x={490} y={29} gap={18.4} />

      {/* c */}
      <Txt x={29} y={292} bold rot>Secondary transplant</Txt>
      <Txt x={133} y={212} bold>Bone marrow</Txt>
      <Txt x={48} y={288} rot>LT-HSCs (Cell count)</Txt>
      <DotBar x={87} y={247} w={81} h={83} pos={[1, 2.05, 3.8, 4.9]} dom={[0.13, 5.53]} yMax={1000}
        yTicks={[0, 250, 500, 750, 1000]} means={cMean} sds={cSd} pts={cPts} barSize={12} />
      <TreatLegend x={66} y={379} />

      {/* d */}
      <Txt x={262} y={212} bold>Spleen</Txt>
      <Txt x={415} y={212} bold>Blood</Txt>
      <Txt x={200} y={292} rot>hCD45 (%)</Txt>
      <Txt x={347} y={292} rot>hCD45 (%)</Txt>
      <DotBar x={233} y={252} w={77} h={78} pos={[1, 2, 3.8, 4.8]} dom={[0.27, 5.4]} yMax={15} yTicks={[0, 5, 10, 15]}
        means={dSpleenMean} sds={dSpleenSd} pts={dSpleenPts} barSize={12} brackets={dSpleenP} />
      <DotBar x={385} y={250} w={81} h={80} pos={[1, 2, 3.75, 4.75]} dom={[0.31, 5.37]} yMax={30}
        yTicks={[0, 5, 10, 15, 20, 25, 30]} means={dBloodMean} sds={dBloodSd} pts={dBloodPts} barSize={10}
        brackets={dBloodP} spread={0.8} />
      <TreatLegend x={287} y={379} />

      {/* e */}
      <Txt x={23} y={483} bold rot>Secondary transplant</Txt>
      <Txt x={135} y={419} bold>Spleen</Txt>
      <Txt x={277} y={419} bold>Blood</Txt>
      <Txt x={47} y={477} rot>Cell count</Txt>
      <Txt x={190} y={477} rot>Cell count</Txt>
      <StackBar x={88} y={435} w={82} h={83} pos={[1, 2, 3, 4]} dom={[0.2, 4.44]} yMax={8} yTicks={[0, 2, 4, 6, 8]}
        exp={4} vals={eSpleenVals} errs={eSpleenErr} barSize={13} />
      <StackBar x={227} y={434} w={85} h={84} pos={[1, 2, 3, 4]} dom={[0.06, 4.38]} yMax={3} yTicks={[0, 1, 2, 3]}
        exp={4} vals={eBloodVals} errs={eBloodErr} barSize={13} />
      <GroupRule x1={97} x2={130} y={558} lines={['Saline']} />
      <GroupRule x1={137} x2={168} y={558} lines={['CIM053', '-SG3376']} />
      <GroupRule x1={238} x2={271} y={558} lines={['Saline']} />
      <GroupRule x1={278} x2={312} y={558} lines={['CIM053', '-SG3376']} />
      <CellLegend x={328} y={424} gap={18.6} />

      {/* f */}
      <ScatterF />
      <Txt x={507} y={436} size={6.5} anchor="start">R2: 0.909</Txt>
      <Txt x={454} y={490} size={9.5} rot>CHANGE-seq-BE read count (Replicate 2)</Txt>
      <Txt x={580} y={582} size={9.5}>CHANGE-seq-BE read count (Replicate 1)</Txt>

      {/* g */}
      <Txt x={205} y={614} size={9.5} bold>Cultured</Txt>
      <Txt x={573} y={613} size={9.5} bold>Primary transplant - Bone Marrow</Txt>
      <Txt x={205} y={829} size={9.5} bold>Primary transplant - Spleen</Txt>
      <Txt x={574} y={829} size={9.5} bold>Secondary transplant - Spleen</Txt>
      <Txt x={16} y={700} size={9.5} rot lh={1.15}>{G_YLABEL}</Txt>
      <Txt x={376} y={697} size={9.5} rot lh={1.15}>{G_YLABEL}</Txt>
      <Txt x={15} y={905} size={9.5} rot lh={1.15}>{G_YLABEL}</Txt>
      <Txt x={377} y={900} size={9.5} rot lh={1.15}>{G_YLABEL}</Txt>

      <EditPlot x={38} w={322} upTop={624} upH={68} loTop={698} loH={68} loMax={8} loTicks={[2, 4, 6, 8]}
        series={[cultD1, cultN1, cultD2, cultN2]} marks={donorMarks} />
      <EditPlot x={400} w={322} upTop={623} upH={69} loTop={698} loH={68} loMax={8} loTicks={[2, 4, 6, 8]}
        series={[bmCim, bmH1, bmH2, bmNtc]} marks={hostMarks} />
      <EditPlot x={40} w={322} upTop={843} upH={67} loTop={915} loH={68} loMax={10} loTicks={[2, 4, 6, 8, 10]}
        series={[psCim, psH1, psH2, psNtc]} marks={hostMarks} />
      <EditPlot x={402} w={322} upTop={842} upH={67} loTop={916} loH={67} loMax={12} loTicks={[2, 4, 6, 8, 10, 12]}
        series={[ssCim, ssH1, ssH2, ssNtc]} marks={hostMarks} />

      <MarkLegend x={300} y={622} names={donorNames} marks={donorMarks} />
      <MarkLegend x={640} y={625} names={hostNames} marks={hostMarks} />
      <MarkLegend x={275} y={840} names={hostNames} marks={hostMarks} />
      <MarkLegend x={640} y={840} names={hostNames} marks={hostMarks} />
    </div>
  );
}
